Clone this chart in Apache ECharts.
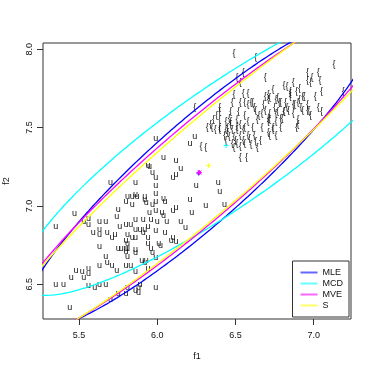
<!DOCTYPE html>
<html>
<head>
<meta charset="utf-8">
<script src="https://cdn.jsdelivr.net/npm/echarts@6/dist/echarts.min.js"></script>
<style>
  html, body { margin: 0; padding: 0; background: #fff; }
  #chart { width: 374px; height: 374px; }
</style>
</head>
<body>
<div id="chart"></div>
<script>
// vowel "u" tokens
const uF1 = [5.99,6.04,6.12,5.94,5.95,6.15,5.97,5.99,6.12,6.10,
  5.70,5.86,5.99,5.99,6.25,6.39,6.21,6.24,6.40,5.86,
  5.81,5.84,5.87,5.92,6.04,6.21,5.92,5.93,5.99,6.05,
  5.97,6.31,6.43,6.12,6.10,5.75,5.80,5.84,6.22,5.47,
  5.95,5.99,6.03,6.04,5.74,5.53,5.56,5.56,5.63,5.67,
  5.86,5.91,5.96,6.00,6.06,6.15,5.35,5.76,5.80,5.83,
  5.94,6.18,5.86,5.89,5.92,5.99,6.05,5.63,5.59,5.63,
  5.68,5.71,5.73,5.81,5.84,5.91,6.10,5.86,5.94,5.80,
  5.81,5.94,6.01,6.02,6.09,6.12,5.63,5.75,5.77,5.80,
  5.81,5.86,5.96,5.86,5.97,5.80,5.81,5.67,5.99,5.90,5.93,
  5.63,5.68,5.71,5.74,5.80,5.83,5.92,5.94,5.86,
  5.48,5.52,5.56,5.56,5.53,5.45,5.35,5.40,5.56,5.60,
  5.63,5.67,5.75,5.81,5.86,5.88,5.99,5.89,5.88,5.70,5.44,5.80];
const uF2 = [7.43,7.31,7.29,7.26,7.25,7.24,7.21,7.18,7.20,7.18,
  7.15,7.15,7.13,7.08,7.13,7.15,7.40,7.44,7.09,7.07,
  7.06,7.06,7.06,7.06,7.05,7.04,7.04,7.02,7.03,7.03,
  7.01,7.00,7.01,6.99,6.97,6.98,7.03,7.01,6.96,6.95,
  6.96,6.97,6.96,6.94,6.93,6.90,6.92,6.88,6.90,6.90,
  6.91,6.91,6.91,6.90,6.90,6.90,6.87,6.87,6.88,6.88,
  6.87,6.86,6.85,6.85,6.85,6.84,6.83,6.85,6.83,6.82,
  6.83,6.80,6.82,6.82,6.80,6.83,6.80,6.80,6.80,6.78,
  6.76,6.76,6.76,6.75,6.78,6.77,6.74,6.73,6.73,6.73,
  6.73,6.72,6.73,6.70,6.70,6.71,6.68,6.68,6.67,6.65,6.65,
  6.62,6.64,6.62,6.59,6.62,6.62,6.64,6.60,6.58,
  6.59,6.58,6.60,6.57,6.54,6.54,6.50,6.50,6.49,6.48,
  6.50,6.50,6.44,6.48,6.46,6.48,6.48,6.50,6.45,6.40,6.35,6.44];

// vowel "{" tokens
const aeF1 = [6.49,6.63,7.13,6.51,6.55,6.69,6.53,6.24,6.96,6.99,
  7.03,7.04,6.96,6.98,7.05,7.01,6.81,6.83,6.87,6.85,
  6.89,6.91,6.93,6.85,6.82,6.91,6.92,6.93,6.96,6.88,
  6.83,6.81,6.87,6.90,6.89,6.96,6.74,6.72,6.76,6.78,
  6.75,6.77,6.80,6.79,6.76,6.71,6.69,6.68,6.69,6.72,
  6.72,6.71,6.67,6.74,6.72,6.67,6.65,6.64,6.62,6.60,
  6.58,6.55,6.56,6.53,6.49,6.48,6.40,6.40,6.40,6.32,
  6.35,6.40,6.44,6.45,6.47,6.51,6.53,6.56,6.51,6.48,
  6.44,6.43,6.46,6.49,6.53,6.58,6.62,6.63,6.59,6.55,
  6.51,6.48,6.44,6.53,6.64,6.49,6.53,6.57,6.40,6.37,
  6.28,6.31,7.19,7.05,6.98,6.90,6.71,6.77,6.79,6.81,
  6.76,6.79,6.71,6.74,6.76,6.71,6.85,6.90,6.94,6.87,
  6.84,6.97,7.03,6.58,6.61,6.63,6.38,6.34,6.46,6.47,
  6.51,6.55,6.58,6.61,6.45,6.50,6.56,6.60,6.66,6.52,
  6.56,6.36,6.47];
const aeF2 = [7.97,7.95,7.90,7.82,7.85,7.82,7.79,7.63,7.85,7.82,
  7.85,7.80,7.80,7.79,7.73,7.70,7.77,7.76,7.79,7.73,
  7.73,7.75,7.70,7.70,7.66,7.68,7.63,7.61,7.61,7.65,
  7.63,7.60,7.59,7.55,7.50,7.65,7.74,7.69,7.68,7.66,
  7.63,7.60,7.56,7.50,7.54,7.68,7.70,7.65,7.61,7.59,
  7.55,7.56,7.50,7.50,7.45,7.59,7.58,7.55,7.63,7.66,
  7.72,7.72,7.66,7.66,7.71,7.66,7.63,7.60,7.55,7.50,
  7.50,7.50,7.54,7.50,7.54,7.55,7.52,7.50,7.49,7.49,
  7.49,7.45,7.44,7.44,7.45,7.45,7.45,7.41,7.43,7.42,
  7.40,7.40,7.42,7.38,7.37,7.37,7.31,7.31,7.49,7.49,
  7.38,7.37,7.73,7.60,7.58,7.52,7.71,7.69,7.66,7.60,
  7.59,7.56,7.54,7.49,7.45,7.47,7.72,7.66,7.70,7.65,
  7.61,7.61,7.63,7.65,7.66,7.61,7.58,7.52,7.56,7.52,
  7.51,7.49,7.54,7.50,7.47,7.42,7.40,7.39,7.42,7.60,
  7.58,7.55,7.60];

// location / scatter estimates: [mean f1, mean f2], [var f1, cov, var f2]
const methods = ["MLE", "MCD", "MVE", "S"];
const colors = ["#0000ff", "#00ffff", "#ff00ff", "#ffff00"];
const centers = [[6.265, 7.21], [6.44, 7.385], [6.269, 7.213], [6.329, 7.257]];
const covs = [[0.1713, 0.1387, 0.1364], [0.2342, 0.1499, 0.1240],
  [0.2168, 0.1756, 0.1622], [0.259, 0.2124, 0.1923]];

const xTicks = [5.5, 6.0, 6.5, 7.0];
const yTicks = [6.5, 7.0, 7.5, 8.0];

const FONT = '"Liberation Sans", Arial, Helvetica, sans-serif';
const chi = Math.sqrt(7.3778); // 97.5% quantile, 2 df

function ellipse(m, s) {
  const l11 = Math.sqrt(s[0]);
  const l21 = s[1] / l11;
  const l22 = Math.sqrt(s[2] - l21 * l21);
  const pts = [];
  for (let i = 0; i <= 400; i++) {
    const t = (2 * Math.PI * i) / 400;
    const a = Math.cos(t), b = Math.sin(t);
    pts.push([m[0] + chi * l11 * a, m[1] + chi * (l21 * a + l22 * b)]);
  }
  return pts;
}

function charSeries(xs, ys, ch) {
  return {
    type: "custom",
    silent: true,
    clip: true,
    data: xs.map((x, i) => [x, ys[i]]),
    renderItem: function (params, api) {
      const p = api.coord([api.value(0), api.value(1)]);
      return {
        type: "text",
        x: p[0],
        y: p[1],
        style: {
          text: ch,
          fill: "#111",
          font: "9px " + FONT,
          align: "center",
          verticalAlign: "middle",
        },
      };
    },
  };
}

const series = [charSeries(uF1, uF2, "u"), charSeries(aeF1, aeF2, "{")];

methods.forEach((name, k) => {
  series.push({
    name: name,
    type: "line",
    data: ellipse(centers[k], covs[k]),
    symbol: "none",
    clip: true,
    silent: true,
    lineStyle: { color: colors[k], width: 1.3 },
    itemStyle: { color: colors[k] },
    z: 3,
  });
});

// centre markers
series.push({
  type: "custom",
  silent: true,
  data: centers.map((c, k) => [c[0], c[1], k]),
  z: 4,
  renderItem: function (params, api) {
    const p = api.coord([api.value(0), api.value(1)]);
    const k = api.value(2);
    const r = 2.5;
    const st = { stroke: colors[k], lineWidth: 1 };
    const kids = [
      { type: "line", shape: { x1: p[0] - r, y1: p[1], x2: p[0] + r, y2: p[1] }, style: st },
      { type: "line", shape: { x1: p[0], y1: p[1] - r, x2: p[0], y2: p[1] + r }, style: st },
    ];
    if (k === 2) {
      kids.push({ type: "line", shape: { x1: p[0] - 2, y1: p[1] - 2, x2: p[0] + 2, y2: p[1] + 2 }, style: st });
      kids.push({ type: "line", shape: { x1: p[0] - 2, y1: p[1] + 2, x2: p[0] + 2, y2: p[1] - 2 }, style: st });
    }
    return { type: "group", children: kids };
  },
});

const option = {
  animation: false,
  backgroundColor: "#fff",
  textStyle: { fontFamily: FONT },
  grid: {
    left: 43, right: 23, top: 43, bottom: 55,
    outerBoundsMode: "none",
    containLabel: false,
    show: true, borderColor: "#333", borderWidth: 1,
  },
  xAxis: {
    type: "value",
    min: 5.269, max: 7.239,
    splitLine: { show: false },
    axisLine: { show: false },
    axisTick: { show: true, customValues: xTicks, length: 6, lineStyle: { color: "#333" } },
    axisLabel: {
      customValues: xTicks, margin: 12, fontSize: 9, color: "#111",
      formatter: (v) => v.toFixed(1),
    },
    name: "f1", nameLocation: "middle", nameGap: 33,
    nameTextStyle: { fontSize: 9, color: "#111" },
  },
  yAxis: {
    type: "value",
    min: 6.278, max: 8.04,
    splitLine: { show: false },
    axisLine: { show: false },
    axisTick: { show: true, customValues: yTicks, length: 6, lineStyle: { color: "#333" } },
    axisLabel: {
      customValues: yTicks, margin: 9, fontSize: 9, color: "#111", rotate: 90,
      formatter: (v) => v.toFixed(1),
    },
    name: "f2", nameLocation: "middle", nameGap: 32, nameRotate: 90,
    nameTextStyle: { fontSize: 9, color: "#111" },
  },
  legend: {
    data: methods,
    orient: "vertical",
    right: 25, bottom: 57,
    icon: "rect",
    itemWidth: 17, itemHeight: 2, itemGap: 0,
    padding: [6, 6, 6, 8],
    borderColor: "#333", borderWidth: 1,
    backgroundColor: "#fff",
    itemStyle: { opacity: 0.6 },
    textStyle: { fontSize: 9, color: "#111", fontFamily: FONT, lineHeight: 11 },
    selectedMode: false,
  },
  series: series,
};

const chart = echarts.init(document.getElementById("chart"));
chart.setOption(option);
</script>
</body>
</html>
